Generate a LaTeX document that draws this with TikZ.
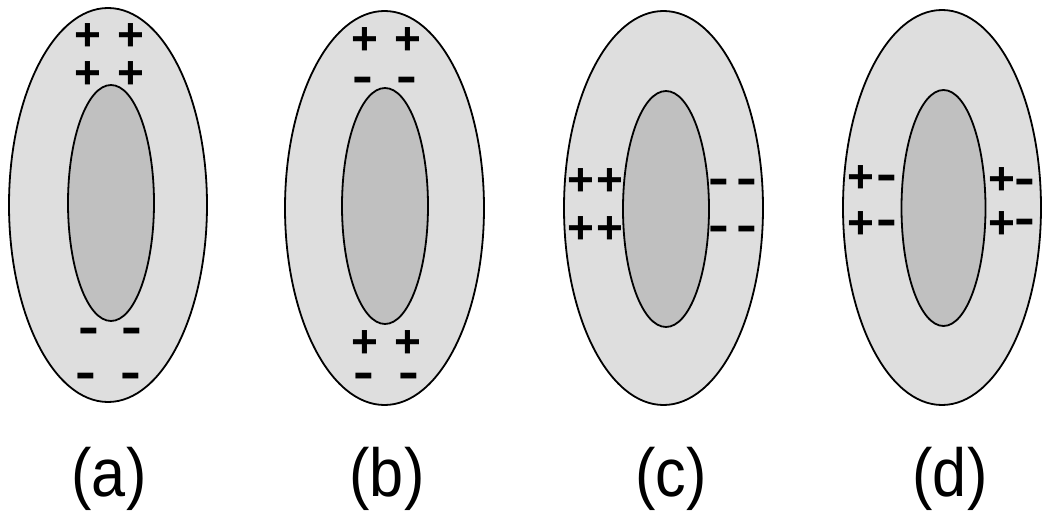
\documentclass[tikz,border=0pt]{standalone}
\usepackage{fontspec}
\setmainfont{Liberation Sans}
\newfontfamily\negfont{Liberation Sans}[FakeStretch=1.3]
\newfontfamily\capfont{Liberation Sans}[FakeStretch=0.9]
\usepackage{xcolor}
\definecolor{shell}{HTML}{DEDEDE}
\definecolor{core}{HTML}{C0C0C0}
\tikzset{
  shellpath/.style={draw,line width=1.8pt,fill=shell},
  corepath/.style={draw,line width=1.8pt,fill=core},
  chg/.style={inner sep=0pt,anchor=base},
  poschg/.style={chg,font=\fontsize{46}{46}\selectfont\bfseries,yshift=-16pt},
  negchg/.style={chg,font=\fontsize{48}{48}\negfont\bfseries,yshift=-11.5pt},
  caption/.style={font=\fontsize{68}{68}\capfont,inner sep=0pt}
}
\begin{document}
\begin{tikzpicture}[x=1pt,y=-1pt]
\useasboundingbox (0,0) rectangle (1050,516);
% (a)
\draw[shellpath] (108,205) ellipse [x radius=99,y radius=197];
\draw[corepath] (111,203) ellipse [x radius=43,y radius=118];
\node[poschg] (a-p1) at (88,35) {+};
\node[poschg] (a-p2) at (131,35) {+};
\node[poschg] (a-p3) at (88,73) {+};
\node[poschg] (a-p4) at (131,73) {+};
\node[negchg] (a-n1) at (89,332) {-};
\node[negchg] (a-n2) at (132,332) {-};
\node[negchg] (a-n3) at (86,377) {-};
\node[negchg] (a-n4) at (131,377) {-};
\node[caption] (a-cap) at (109,479) {(a)};
% (b)
\draw[shellpath] (384.5,208) ellipse [x radius=99.5,y radius=197];
\draw[corepath] (385,206) ellipse [x radius=43,y radius=118];
\node[poschg] (b-p1) at (365,39) {+};
\node[poschg] (b-p2) at (408,39) {+};
\node[negchg] (b-n1) at (363,81) {-};
\node[negchg] (b-n2) at (407,81) {-};
\node[poschg] (b-p3) at (365,341) {+};
\node[poschg] (b-p4) at (408,341) {+};
\node[negchg] (b-n3) at (364,377) {-};
\node[negchg] (b-n4) at (409,377) {-};
\node[caption] (b-cap) at (387,479) {(b)};
% (c)
\draw[shellpath] (663.5,208) ellipse [x radius=99.5,y radius=197];
\draw[corepath] (666,209) ellipse [x radius=43,y radius=118];
\node[poschg] (c-p1) at (581,180) {+};
\node[poschg] (c-p2) at (610,180) {+};
\node[poschg] (c-p3) at (581,227) {+};
\node[poschg] (c-p4) at (610,227) {+};
\node[negchg] (c-n1) at (719,183) {-};
\node[negchg] (c-n2) at (747,183) {-};
\node[negchg] (c-n3) at (719,230) {-};
\node[negchg] (c-n4) at (747,230) {-};
\node[caption] (c-cap) at (671,479) {(c)};
% (d)
\draw[shellpath] (942,207.5) ellipse [x radius=99,y radius=197.5];
\draw[corepath] (943.5,208) ellipse [x radius=42,y radius=118];
\node[poschg] (d-p1) at (861,177) {+};
\node[negchg] (d-n1) at (887,179) {-};
\node[poschg] (d-p2) at (861,222) {+};
\node[negchg] (d-n2) at (887,224) {-};
\node[poschg] (d-p3) at (1002,178) {+};
\node[negchg] (d-n3) at (1025,183) {-};
\node[poschg] (d-p4) at (1002,222) {+};
\node[negchg] (d-n4) at (1025,223) {-};
\node[caption] (d-cap) at (950,479) {(d)};
\end{tikzpicture}
\end{document}
